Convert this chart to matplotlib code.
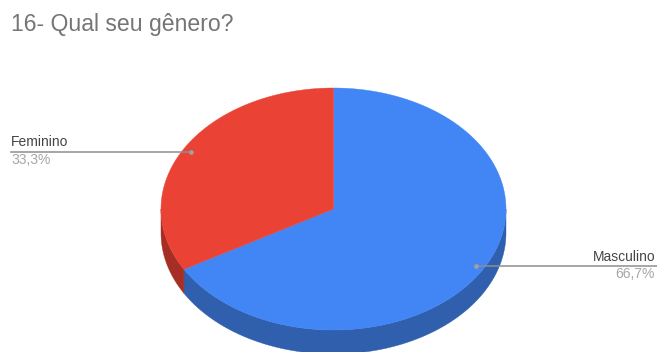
#!/usr/bin/env python3
"""Grafico de pizza 3D: genero dos respondentes."""
import numpy as np
import matplotlib
matplotlib.use("Agg")
import matplotlib.pyplot as plt
from matplotlib.patches import Polygon

generos = ["Masculino", "Feminino"]
percentuais = [66.7, 33.3]
rotulos = ["66,7%", "33,3%"]
cores_topo = ["#4285f4", "#ea4335"]
cores_lado = ["#2f5fad", "#a52f25"]

W, H = 657, 352
plt.rcParams["font.family"] = ["Liberation Sans", "DejaVu Sans"]
fig = plt.figure(figsize=(W / 100, H / 100), dpi=100, facecolor="white")
ax = fig.add_axes([0, 0, 1, 1])
ax.set_xlim(0, W); ax.set_ylim(H, 0); ax.axis("off")

# elipse do topo e altura da lateral, em pixels
cx, cy, rx, ry, depth = 333.5, 209, 172.5, 121, 24

def ponto(ang):
    return cx + rx * np.sin(ang), cy - ry * np.cos(ang)

inicio = 0.0
angulos = []
for v in percentuais:
    fim = inicio + v / sum(percentuais) * 2 * np.pi
    angulos.append((inicio, fim))
    inicio = fim

# lateral: so a metade de baixo da elipse aparece
for (a0, a1), cor in zip(angulos, cores_lado):
    lo, hi = max(a0, np.pi / 2), min(a1, 3 * np.pi / 2)
    if hi <= lo:
        continue
    t = np.linspace(lo, hi, 200)
    x, y = ponto(t)
    ax.add_patch(Polygon(np.r_[np.c_[x, y], np.c_[x[::-1], y[::-1] + depth]],
                         closed=True, fc=cor, ec=cor, lw=0.3))

# topo
for (a0, a1), cor in zip(angulos, cores_topo):
    t = np.linspace(a0, a1, 300)
    x, y = ponto(t)
    ax.add_patch(Polygon(np.r_[[[cx, cy]], np.c_[x, y]], closed=True, fc=cor, ec=cor, lw=0.3))

# linhas de chamada
ax.plot([476, 657], [266, 266], color="#8e8e8e", lw=1.1)
ax.plot([476], [266], "o", color="#a0a0a0", ms=3.4, mec="none")
ax.plot([11, 191], [151.5, 151.5], color="#8e8e8e", lw=1.1)
ax.plot([191], [151.5], "o", color="#a0a0a0", ms=3.4, mec="none")

ax.text(11, 142.5, generos[1], fontsize=10, color="#444444", va="center")
ax.text(11, 160, rotulos[1], fontsize=10, color="#a6a6a6", va="center")
ax.text(655, 257, generos[0], fontsize=10, color="#444444", va="center", ha="right")
ax.text(655, 274.5, rotulos[0], fontsize=10, color="#a6a6a6", va="center", ha="right")
ax.text(11, 24, "16- Qual seu gênero?", fontsize=16.6, color="#757575", va="center")

fig.savefig("out.png", dpi=100, facecolor="white")
